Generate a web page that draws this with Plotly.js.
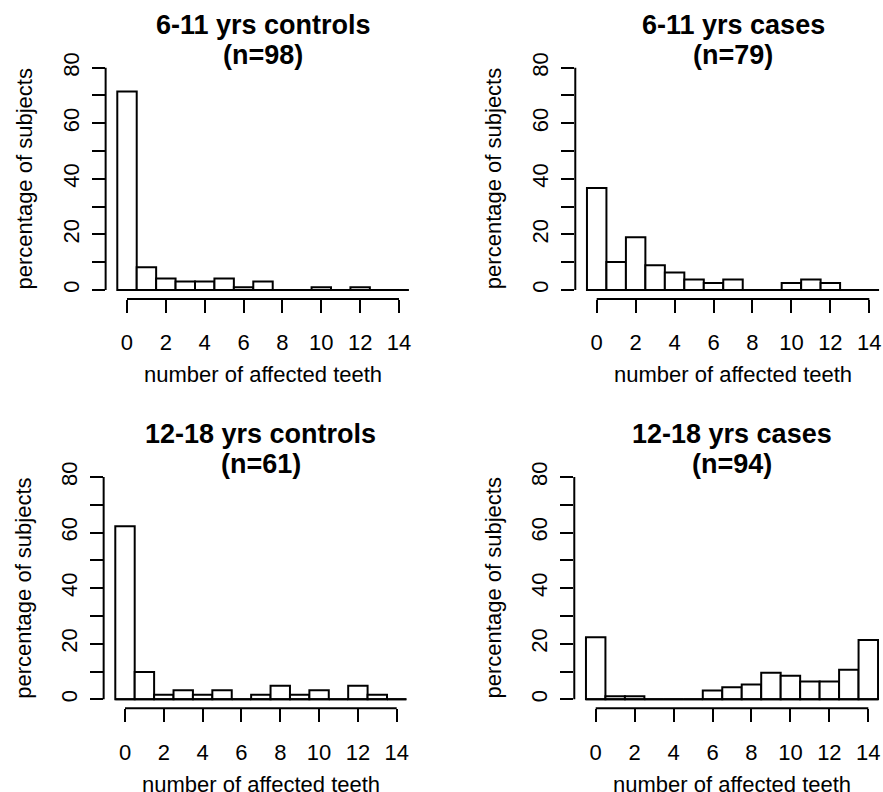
<!DOCTYPE html>
<html>
<head>
<meta charset="utf-8">
<script src="https://cdn.plot.ly/plotly-3.0.1.min.js"></script>
<style>html,body{margin:0;padding:0;background:#fff;overflow:hidden}#chart{width:883px;height:792px}</style>
</head>
<body>
<div id="chart"></div>
<script>
// ---------------- data ----------------
const categories = [0, 1, 2, 3, 4, 5, 6, 7, 8, 9, 10, 11, 12, 13, 14];
const controls611 = [71.4, 8.2, 4.1, 3.1, 3.1, 4.1, 1.0, 3.1, 0, 0, 1.0, 0, 1.0, 0, 0];
const cases611 = [36.7, 10.1, 19.0, 8.9, 6.3, 3.8, 2.5, 3.8, 0, 0, 2.5, 3.8, 2.5, 0, 0];
const controls1218 = [62.3, 9.8, 1.6, 3.3, 1.6, 3.3, 0, 1.6, 4.9, 1.6, 3.3, 0, 4.9, 1.6, 0];
const cases1218 = [22.3, 1.1, 1.1, 0, 0, 0, 3.2, 4.3, 5.3, 9.6, 8.5, 6.4, 6.4, 10.6, 21.3];
const panelTitles = ['6-11 yrs controls', '6-11 yrs cases', '12-18 yrs controls', '12-18 yrs cases'];
const panelN = ['(n=98)', '(n=79)', '(n=61)', '(n=94)'];
const xTickVals = [0, 2, 4, 6, 8, 10, 12, 14];
const xTickText = ['0', '2', '4', '6', '8', '10', '12', '14'];
const yTickVals = [0, 10, 20, 30, 40, 50, 60, 70, 80];
const yTickText = ['0', '', '20', '', '40', '', '60', '', '80'];
const xLabel = 'number of affected teeth';
const yLabel = 'percentage of subjects';

// ---------------- layout geometry (pixels) ----------------
const W = 883, H = 792;
const FONT = 'Liberation Sans, Arial, Helvetica, sans-serif';
const geom = [
  {x0: 127, x14: 399, y0: 290, y80: 67.7},
  {x0: 596.7, x14: 869.3, y0: 290, y80: 67.7},
  {x0: 125, x14: 396.7, y0: 699.3, y80: 477},
  {x0: 595.7, x14: 868.3, y0: 699.3, y80: 477}
];
const seriesList = [controls611, cases611, controls1218, cases1218];

const data = [];
const layout = {
  width: W, height: H,
  margin: {l: 0, r: 0, t: 0, b: 0, pad: 0},
  paper_bgcolor: '#fff', plot_bgcolor: '#fff',
  showlegend: false,
  bargap: 0,
  font: {family: FONT, size: 22, color: '#000'},
  shapes: [], annotations: []
};

const xLo = -1.1, xHiNom = 15.1, yLo = -3.2, yHi = 83.2;
geom.forEach((g, i) => {
  const k = i + 1;
  const xs = k === 1 ? '' : String(k);
  const ux = (g.x14 - g.x0) / 14;
  const uy = (g.y0 - g.y80) / 80;
  const leftPx = g.x0 + xLo * ux;
  const rightNom = g.x0 + xHiNom * ux;
  const rightPx = Math.min(W, rightNom);
  const xHi = (rightPx - g.x0) / ux;
  const topPx = g.y0 - yHi * uy;
  const botPx = g.y0 - yLo * uy;
  const centerPx = (leftPx + rightNom) / 2;

  data.push({
    type: 'bar', x: categories, y: seriesList[i], width: 1,
    xaxis: 'x' + xs, yaxis: 'y' + xs,
    marker: {color: '#fff', line: {color: '#000', width: 2}},
    hoverinfo: 'x+y'
  });

  layout['xaxis' + xs] = {
    domain: [leftPx / W, rightPx / W], range: [xLo, xHi], anchor: 'y' + xs,
    showline: false, zeroline: false, showgrid: false,
    tickmode: 'array', tickvals: xTickVals, ticktext: xTickText,
    ticks: 'outside', ticklen: 13, tickwidth: 2, tickcolor: '#000',
    ticklabelstandoff: 11,
    tickfont: {family: FONT, size: 22, color: '#000'},
    automargin: false, fixedrange: true
  };
  layout['yaxis' + xs] = {
    domain: [1 - botPx / H, 1 - topPx / H], range: [yLo, yHi], anchor: 'x' + xs,
    showline: false, zeroline: false, showgrid: false,
    tickmode: 'array', tickvals: yTickVals, ticktext: yTickText,
    ticks: 'outside', ticklen: 13, tickwidth: 2, tickcolor: '#000',
    tickangle: -90, ticklabelstandoff: 4,
    tickfont: {family: FONT, size: 22, color: '#000'},
    automargin: false, fixedrange: true
  };

  // axis lines (R style, spanning the tick range only) and histogram baseline
  layout.shapes.push({type: 'line', xref: 'x' + xs, yref: 'y' + xs + ' domain',
    x0: xTickVals[0], x1: xTickVals[xTickVals.length - 1], y0: 0, y1: 0,
    line: {color: '#000', width: 2}});
  layout.shapes.push({type: 'line', xref: 'x' + xs + ' domain', yref: 'y' + xs,
    x0: 0, x1: 0, y0: yTickVals[0], y1: yTickVals[yTickVals.length - 1],
    line: {color: '#000', width: 2}});
  layout.shapes.push({type: 'line', xref: 'x' + xs, yref: 'y' + xs,
    x0: categories[0] - 0.5, x1: categories[categories.length - 1] + 0.5, y0: 0, y1: 0,
    line: {color: '#000', width: 2}});

  // titles
  layout.annotations.push({xref: 'paper', yref: 'paper', x: centerPx / W, y: 1 - (topPx - 34) / H,
    text: '<b>' + panelTitles[i] + '</b>', showarrow: false, xanchor: 'center', yanchor: 'middle',
    font: {family: FONT, size: 27, color: '#000'}});
  layout.annotations.push({xref: 'paper', yref: 'paper', x: centerPx / W, y: 1 - (topPx - 4) / H,
    text: '<b>' + panelN[i] + '</b>', showarrow: false, xanchor: 'center', yanchor: 'middle',
    font: {family: FONT, size: 27, color: '#000'}});
  // axis titles
  layout.annotations.push({xref: 'paper', yref: 'paper', x: centerPx / W, y: 1 - (botPx + 76) / H,
    text: xLabel, showarrow: false, xanchor: 'center', yanchor: 'middle',
    font: {family: FONT, size: 22, color: '#000'}});
  layout.annotations.push({xref: 'paper', yref: 'paper', x: (leftPx - 81) / W, y: 1 - ((topPx + botPx) / 2) / H,
    text: yLabel, showarrow: false, xanchor: 'center', yanchor: 'middle', textangle: -90,
    font: {family: FONT, size: 22, color: '#000'}});
});

Plotly.newPlot('chart', data, layout, {displayModeBar: false, staticPlot: true});
</script>
</body>
</html>
